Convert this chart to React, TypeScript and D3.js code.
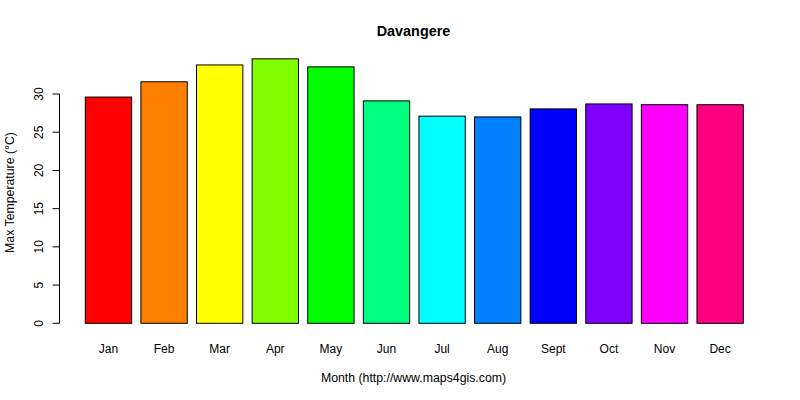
import React from "react";
import * as d3 from "d3";

const months = ["Jan", "Feb", "Mar", "Apr", "May", "Jun", "Jul", "Aug", "Sept", "Oct", "Nov", "Dec"];
const maxTemp = [29.6, 31.6, 33.8, 34.6, 33.55, 29.1, 27.1, 27.0, 28.05, 28.7, 28.6, 28.6];
const colors = ["#FF0000", "#FF8000", "#FFFF00", "#80FF00", "#00FF00", "#00FF80", "#00FFFF", "#0080FF", "#0000FF", "#8000FF", "#FF00FF", "#FF0080"];
const yTicks = [0, 5, 10, 15, 20, 25, 30];

export default function App() {
  const W = 800, H = 400;
  const font = "'Liberation Sans', Arial, sans-serif";
  // R barplot units: bars at 0.2 + i*1.2, width 1
  const x = d3.scaleLinear().domain([0.2, 14.4]).range([85.3, 743.3]);
  const y = d3.scaleLinear().domain([0, 30]).range([323.3, 94]);
  const axisX = 59.5;
  return (
    <svg width={W} height={H} style={{ position: "absolute", left: 0, top: 0, background: "#fff" }} fontFamily={font}>
      <rect x={0} y={0} width={W} height={H} fill="#fff" />
      <text x={413.5} y={35.5} textAnchor="middle" fontWeight="bold" fontSize={14.4}>Davangere</text>
      {maxTemp.map((v, i) => {
        const x0 = x(0.2 + i * 1.2);
        const x1 = x(1.2 + i * 1.2);
        return (
          <rect key={i} x={x0} y={y(v)} width={x1 - x0} height={y(0) - y(v)} fill={colors[i]} stroke="#000" strokeWidth={1} />
        );
      })}
      <line x1={axisX} x2={axisX} y1={y(0)} y2={y(30)} stroke="#000" />
      {yTicks.map((t) => (
        <g key={t}>
          <line x1={axisX - 7} x2={axisX} y1={y(t)} y2={y(t)} stroke="#000" />
          <text transform={`translate(${axisX - 17},${y(t)}) rotate(-90)`} textAnchor="middle" fontSize={12}>{t}</text>
        </g>
      ))}
      {months.map((m, i) => (
        <text key={m} x={x(0.7 + i * 1.2)} y={353} textAnchor="middle" fontSize={12}>{m}</text>
      ))}
      <text x={413.5} y={382} textAnchor="middle" fontSize={12.3}>Month (http://www.maps4gis.com)</text>
      <text transform={`translate(14,192.5) rotate(-90)`} textAnchor="middle" fontSize={12.3}>Max Temperature (°C)</text>
    </svg>
  );
}
